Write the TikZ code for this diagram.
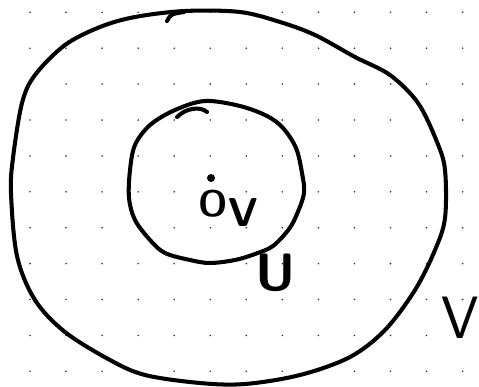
\documentclass[tikz,border=0pt]{standalone}
\usepackage{fontspec}
\usepackage{tikz}
\usetikzlibrary{positioning}

\begin{document}
\begin{tikzpicture}[x=0.02cm, y=-0.02cm,
				pen/.style={line width=2.3pt, line cap=round, line join=round},
				griddot/.style={fill=black!80},
				lbl/.style={inner sep=0pt, font=\sffamily}]
			\useasboundingbox (0,0) rectangle (479,386);
			% Dot grid
			\foreach \i in {0,...,12}
				\foreach \j in {0,...,10}
					\fill[griddot] (30+36.05*\i, 12.3+35.9*\j) circle (0.9);

			% Outer set V
			\draw[pen] plot[smooth cycle, tension=0.55] coordinates {
				(185,11) (240,12) (280,22) (315,35) (355,57) (390,75) (418,103)
				(437,142) (445,170) (445,218) (435,250) (415,290) (385,330)
				(350,357) (300,375) (245,384) (200,383) (145,375) (110,360)
				(65,332) (35,300) (17,256) (11,193) (13,158) (22,103) (35,75)
				(65,45) (100,27) (135,17)};
			\draw[pen] (167,21) .. controls (171,14) .. (184,12);

			% Inner set U
			\draw[pen] plot[smooth cycle, tension=0.55] coordinates {
				(205,101) (240,106) (267,116) (283,128) (296,148) (302,173)
				(304,193) (297,214) (289,229) (273,246) (255,254) (235,260)
				(210,263) (190,260) (165,253) (150,240) (135,220) (129,198)
				(130,170) (135,145) (150,125) (175,110)};
			\draw[pen] (177,117) .. controls (186,108) and (200,106) .. (207,112);

			% Point and labels
			\fill (211,178) circle (4);
			\node[lbl, font=\sffamily\bfseries\fontsize{21}{21}\selectfont] (o) at (213,204) {O};
			\node[lbl, font=\sffamily\bfseries\fontsize{23}{23}\selectfont] (v) at (243,212) {V};
			\node[lbl, font=\sffamily\bfseries\fontsize{30}{30}\selectfont] (uname) at (276,273) {U};
			\node[lbl, font=\sffamily\fontsize{34}{34}\selectfont] (vname) at (460,318) {V};
		\end{tikzpicture}
\end{document}
